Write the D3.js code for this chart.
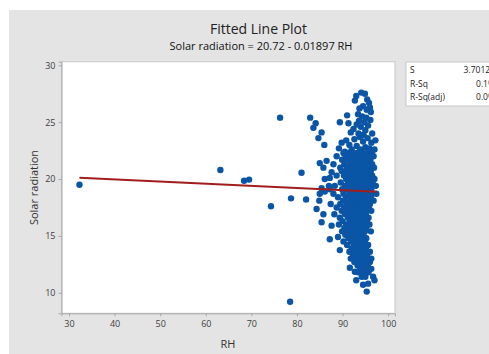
<!DOCTYPE html>
<html><head><meta charset="utf-8">
<script src="https://cdn.jsdelivr.net/npm/d3@7"></script>
<style>
body{margin:0;background:#fff;}
svg{display:block;font-family:"Open Sans","Noto Sans",sans-serif;}
</style></head>
<body><svg id="c" width="489" height="354"></svg>
<script>
// ---- data ----
const chartTitle = "Fitted Line Plot";
const equation = "Solar radiation = 20.72 - 0.01897 RH";
const xLabel = "RH";
const yLabel = "Solar radiation";
const intercept = 20.72, slope = -0.01897;
const xTicks = [30,40,50,60,70,80,90,100];
const yTicks = [10,15,20,25,30];
const statLabels = ["S","R-Sq","R-Sq(adj)"];
const statValues = ["3.70126","0.1%","0.0%"];

// [RH, Solar radiation]
const outliers = [[32.3,19.5],[63.2,20.8],[68.4,19.85],[69.5,19.95],[74.3,17.6],[76.3,25.4],[78.5,9.2],[78.7,18.3],[82.0,18.2],[81.0,20.55]];
const upperGroup = [[93.0,27.3],[94.1,27.6],[94.9,27.5],[95.4,27.0],[92.7,26.9],[95.8,26.7],[96.0,26.3],[95.3,26.1],[94.5,26.4],[93.7,26.2],[96.2,25.9],[93.4,25.7],[94.3,25.5],[95.2,25.4],[96.1,25.2],[91.0,25.6],[89.4,25.0],[91.3,24.9],[94.8,25.0],[93.6,25.1],[82.9,25.4],[84.1,24.9],[83.6,24.5],[85.4,24.1],[93.1,24.8],[94.0,24.6],[95.0,24.3],[96.5,24.0],[95.6,24.7],[92.4,24.4],[91.8,24.1],[94.6,23.9],[93.5,24.0],[84.7,23.6],[86.0,23.0],[90.8,23.4],[89.8,23.2],[91.5,23.0],[92.6,23.5],[93.1,22.9],[94.5,23.3],[95.5,23.6],[96.3,23.2],[97.2,23.4],[95.0,22.8],[97.0,22.6],[93.8,23.7],[89.2,22.7],[90.5,22.4],[92.0,22.6],[93.9,22.6],[95.9,22.7]];
const coreGroup = [
[90.2,22.3],[91.4,22.3],[92.3,22.3],[93.2,22.3],[94.4,22.3],[95.3,22.3],[96.4,22.3],
[88.7,22.0],[90.7,22.0],[91.9,22.0],[92.8,22.0],[93.6,22.0],[94.7,22.0],[95.7,22.0],[96.8,22.0],
[85.0,21.4],[86.5,21.6],[89.9,21.7],[91.2,21.7],[92.5,21.7],[93.4,21.7],[94.2,21.7],[95.1,21.7],[96.1,21.7],
[88.0,21.3],[90.4,21.3],[91.7,21.3],[92.9,21.3],[93.8,21.3],[94.6,21.3],[95.5,21.3],[96.5,21.3],
[85.8,21.0],[89.5,21.0],[91.0,21.0],[92.2,21.0],[93.1,21.0],[94.0,21.0],[94.9,21.0],[95.8,21.0],[96.9,21.0],
[87.6,20.6],[89.8,20.7],[90.9,20.7],[91.9,20.7],[92.7,20.7],[93.5,20.7],[94.3,20.7],[95.2,20.7],[96.2,20.7],
[88.7,20.3],[90.3,20.3],[91.4,20.3],[92.4,20.3],[93.3,20.3],[94.1,20.3],[94.8,20.3],[95.6,20.3],[96.5,20.3],
[86.1,20.0],[87.2,20.1],[90.8,20.0],[91.8,20.0],[92.9,20.0],[93.7,20.0],[94.5,20.0],[95.3,20.0],[96.0,20.0],[97.0,20.0],
[89.6,19.7],[91.2,19.7],[92.3,19.7],[93.2,19.7],[94.0,19.7],[94.9,19.7],[95.7,19.7],[96.6,19.7],
[85.4,19.2],[87.0,19.4],[88.3,19.4],[90.5,19.4],[91.6,19.4],[92.6,19.4],[93.4,19.4],[94.2,19.4],[95.1,19.4],[96.0,19.4],[97.3,19.4],
[86.1,18.9],[87.2,19.1],[89.9,19.1],[91.0,19.1],[92.1,19.1],[93.0,19.1],[93.8,19.1],[94.6,19.1],[95.4,19.1],[96.3,19.1]];
const lowerGroup = [
[85.0,18.7],[88.0,18.7],[90.2,18.7],[91.5,18.7],[92.5,18.7],[93.3,18.7],[94.1,18.7],[94.9,18.7],[95.7,18.7],[96.5,18.7],[97.4,18.7],
[89.0,18.4],[90.8,18.4],[92.0,18.4],[92.9,18.4],[93.7,18.4],[94.5,18.4],[95.3,18.4],[96.2,18.4],
[84.9,18.1],[87.4,17.8],[90.1,18.1],[91.3,18.1],[92.3,18.1],[93.2,18.1],[94.0,18.1],[94.8,18.1],[95.6,18.1],[96.8,18.1],
[89.5,17.8],[90.9,17.8],[91.9,17.8],[92.8,17.8],[93.6,17.8],[94.4,17.8],[95.2,17.8],[96.0,17.8],
[84.3,17.36],[88.7,17.5],[90.3,17.5],[91.5,17.5],[92.4,17.5],[93.3,17.5],[94.1,17.5],[94.9,17.5],[95.8,17.5],
[89.8,17.2],[91.0,17.2],[92.1,17.2],[93.0,17.2],[93.8,17.2],[94.6,17.2],[95.4,17.2],[96.3,17.2],
[85.8,16.9],[88.2,16.9],[90.5,16.9],[91.7,16.9],[92.6,16.9],[93.5,16.9],[94.3,16.9],[95.1,16.9],
[89.4,16.6],[91.2,16.6],[92.3,16.6],[93.2,16.6],[94.0,16.6],[94.8,16.6],[95.7,16.6],
[85.4,16.2],[90.0,16.3],[91.6,16.3],[92.7,16.3],[93.6,16.3],[94.4,16.3],[95.3,16.3],
[87.6,15.9],[89.2,16.0],[90.8,16.0],[92.0,16.0],[93.0,16.0],[93.9,16.0],[94.8,16.0],[95.9,16.0],
[90.4,15.7],[91.5,15.7],[92.5,15.7],[93.4,15.7],[94.3,15.7],[95.2,15.7],
[89.9,15.4],[91.1,15.4],[92.2,15.4],[93.1,15.4],[94.0,15.4],[94.9,15.4],[96.2,15.4],
[89.0,14.9],[90.6,15.1],[91.8,15.1],[92.8,15.1],[93.7,15.1],[94.6,15.1],
[87.2,14.7],[91.3,14.8],[92.4,14.8],[93.3,14.8],[94.3,14.8],[95.2,14.8],
[90.2,14.5],[91.9,14.5],[92.9,14.5],[93.9,14.5],[94.9,14.5],
[91.0,14.2],[92.5,14.2],[93.5,14.2],[94.5,14.2],[95.6,14.2],
[89.4,13.75],[92.0,13.9],[93.1,13.9],[94.1,13.9],[95.1,13.9],
[91.5,13.6],[92.7,13.6],[93.8,13.6],[94.8,13.6],[96.0,13.6],
[92.3,13.3],[93.4,13.3],[94.5,13.3],[95.4,13.3],
[91.8,13.0],[93.0,13.0],[94.1,13.0],[95.2,13.0],[96.3,13.0],
[92.6,12.7],[93.7,12.7],[94.8,12.7],[96.0,12.7],
[91.6,12.2],[93.3,12.4],[94.4,12.4],[95.5,12.4],
[92.7,11.85],[93.9,12.1],[95.1,12.1],[96.3,12.1],
[93.4,11.8],[94.6,11.8],[95.7,11.8],
[93.0,11.1],[94.2,11.4],[95.0,11.4],[96.7,11.4],[97.0,11.1],
[94.5,10.7],[95.6,10.8],[95.3,10.1]];

const allPoints = [...outliers, ...upperGroup, ...coreGroup, ...lowerGroup];

// ---- drawing ----
const svg = d3.select("#c");
svg.append("rect").attr("x",9).attr("y",10).attr("width",480).attr("height",344).attr("fill","#e4e4e4");

const x = d3.scaleLinear().domain([28.36,101.5]).range([61.5,395]);
const y = d3.scaleLinear().domain([8.19,30.32]).range([313.3,61.7]);

svg.append("rect").attr("x",61.5).attr("y",61.7).attr("width",395-61.5).attr("height",313.3-61.7)
  .attr("fill","#fff").attr("stroke","#c8c8c8").attr("stroke-width",1);

const gx = svg.append("g").attr("transform","translate(0,313.3)")
  .call(d3.axisBottom(x).tickValues(xTicks).tickSize(3).tickPadding(4).tickFormat(d3.format("d")));
const gy = svg.append("g").attr("transform","translate(61.5,0)")
  .call(d3.axisLeft(y).tickValues(yTicks).tickSize(3).tickPadding(3).tickFormat(d3.format("d")));
[gx,gy].forEach(g=>{
  g.select(".domain").attr("stroke","#a8a8a8");
  g.selectAll(".tick line").attr("stroke","#a8a8a8");
  g.selectAll(".tick text").attr("fill","#404040").style("font-size","9px").style("font-family","'Open Sans','Noto Sans',sans-serif");
});

const xs = allPoints.map(d=>d[0]);
const xmin = d3.min(xs), xmax = d3.max(xs);
const plot = svg.append("g");
plot.selectAll("circle").data(allPoints).join("circle")
  .attr("cx",d=>x(d[0])).attr("cy",d=>y(d[1])).attr("r",3.2).attr("fill","#0a55a6");
plot.append("line")
  .attr("x1",x(xmin)).attr("y1",y(intercept+slope*xmin))
  .attr("x2",x(xmax)).attr("y2",y(intercept+slope*xmax))
  .attr("stroke","#a11d1d").attr("stroke-width",2);

svg.append("text").attr("x",258.5).attr("y",34).attr("text-anchor","middle")
  .style("font-size","14px").attr("fill","#222").text(chartTitle);
svg.append("text").attr("x",261).attr("y",50).attr("text-anchor","middle")
  .style("font-size","11px").attr("fill","#111").text(equation);
svg.append("text").attr("x",228).attr("y",348).attr("text-anchor","middle")
  .style("font-size","11px").attr("fill","#333").text(xLabel);
svg.append("text").attr("transform","translate(38,187.5) rotate(-90)").attr("text-anchor","middle")
  .style("font-size","11px").attr("fill","#333").text(yLabel);

// stats box
svg.append("rect").attr("x",406).attr("y",62).attr("width",100).attr("height",44)
  .attr("fill","#fff").attr("stroke","#c8c8c8");
statLabels.forEach((s,i)=>{
  svg.append("text").attr("x",410).attr("y",73+i*13.5).style("font-size","8.5px").attr("fill","#222").text(s);
  svg.append("text").attr("x",495).attr("y",73+i*13.5).attr("text-anchor","end").style("font-size","8.5px").attr("fill","#222").text(statValues[i]);
});
</script></body></html>
